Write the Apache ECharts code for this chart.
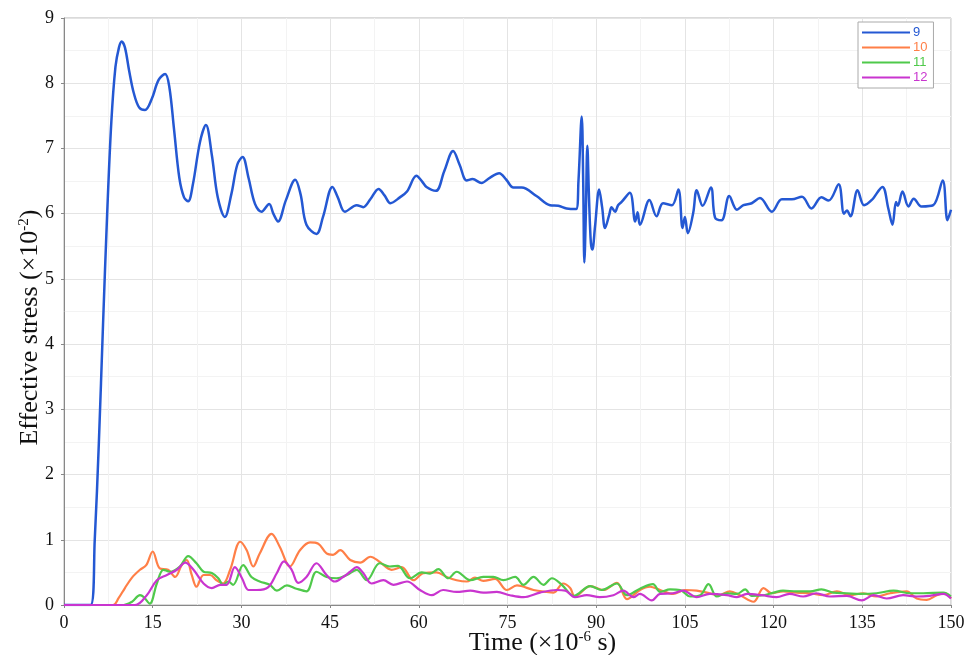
<!DOCTYPE html>
<html><head><meta charset="utf-8">
<script src="https://cdn.jsdelivr.net/npm/echarts@6/dist/echarts.min.js"></script>
<style>html,body{margin:0;padding:0;background:#fff}#c{width:967px;height:655px}</style>
</head><body><div id="c"></div>
<script>
const seriesNames = ['9','10','11','12'];
const colors = ['#2458d3','#ff7f47','#4fc94b','#c935cf'];
const xTicks = [0,15,30,45,60,75,90,105,120,135,150];
const yTicks = [0,1,2,3,4,5,6,7,8,9];

const s9 = [[0,0],[4.5,0],[5.2,1.0],[5.9,2.5],[6.6,4.3],[7.3,6.0],[8.0,7.4],[8.7,8.25],[9.3,8.55],[9.75,8.64],[10.3,8.55],[11.0,8.2],[11.8,7.85],[12.7,7.63],[13.7,7.59],[14.8,7.75],[16.0,8.05],[17.1,8.14],[17.8,7.95],[18.6,7.3],[19.5,6.55],[20.3,6.25],[21.0,6.19],[21.8,6.45],[23.0,7.1],[24.0,7.36],[25.0,6.9],[26.0,6.25],[27.2,5.95],[28.3,6.3],[29.3,6.75],[30.2,6.87],[31.2,6.55],[32.3,6.15],[33.4,6.03],[34.7,6.15],[35.4,6.0],[36.2,5.88],[37.5,6.2],[39.1,6.52],[40.0,6.3],[41.0,5.83],[42.7,5.69],[43.8,5.95],[45.4,6.41],[46.3,6.25],[47.5,6.03],[49.5,6.13],[50.6,6.10],[51.8,6.22],[53.2,6.38],[54.2,6.28],[55.2,6.16],[56.8,6.25],[58.0,6.34],[59.6,6.58],[60.5,6.5],[61.3,6.41],[62.9,6.35],[64.3,6.65],[65.8,6.96],[66.9,6.75],[68.1,6.51],[69.1,6.53],[70.6,6.47],[72.0,6.55],[73.6,6.62],[74.8,6.52],[76.0,6.40],[77.4,6.40],[79.9,6.27],[82.2,6.13],[83.6,6.12],[85.0,6.08],[86.6,6.07],[87.0,6.5],[87.55,7.49],[87.8,6.5],[88.0,5.25],[88.25,6.0],[88.5,7.04],[88.8,6.2],[89.1,5.55],[89.35,5.45],[89.8,5.8],[90.5,6.37],[91.0,6.1],[91.5,5.78],[92.2,5.98],[92.6,6.10],[93.2,6.03],[93.7,6.13],[94.3,6.18],[95.7,6.32],[96.6,5.88],[97.0,6.02],[97.4,5.83],[99.0,6.21],[100.2,5.96],[101.3,6.16],[102.8,6.13],[103.9,6.37],[104.6,5.78],[105.0,5.95],[105.5,5.70],[106.4,6.01],[107.0,6.36],[108.0,6.12],[109.4,6.40],[110.1,5.94],[111.2,5.90],[112.5,6.27],[113.8,6.06],[114.9,6.13],[116.3,6.16],[117.7,6.24],[119.7,6.03],[121.4,6.22],[123.1,6.22],[124.8,6.26],[126.4,6.08],[128.1,6.25],[129.3,6.20],[131.0,6.45],[131.9,6.00],[132.4,6.05],[133.0,5.96],[134.2,6.36],[135.3,6.13],[136.6,6.21],[138.4,6.41],[139.4,6.08],[140.1,5.83],[140.7,6.18],[141.0,6.12],[141.8,6.34],[142.8,6.11],[143.7,6.23],[145.0,6.11],[147.0,6.13],[148.6,6.51],[149.4,5.90],[150,6.06]];

const s10 = [[0,0],[8.3,0],[9.2,0.1],[10.3,0.26],[11.5,0.42],[12.85,0.54],[13.9,0.61],[15.0,0.82],[16.2,0.56],[17.6,0.54],[18.8,0.43],[19.9,0.61],[20.75,0.69],[21.6,0.46],[22.4,0.28],[23.6,0.46],[24.7,0.46],[25.8,0.38],[26.9,0.33],[28.1,0.54],[29.8,0.97],[30.9,0.84],[32.0,0.59],[33.1,0.79],[35.1,1.09],[36.5,0.89],[38.2,0.59],[39.9,0.84],[41.6,0.96],[43.0,0.94],[44.4,0.79],[45.5,0.77],[46.7,0.84],[48.4,0.69],[50.1,0.65],[51.8,0.74],[53.4,0.66],[55.4,0.54],[57.1,0.58],[59.1,0.38],[60.8,0.49],[63.0,0.50],[64.7,0.43],[66.4,0.38],[68.1,0.36],[69.5,0.42],[70.9,0.37],[72.9,0.40],[74.9,0.23],[76.6,0.30],[79.4,0.23],[81.6,0.20],[82.8,0.19],[84.4,0.33],[85.6,0.26],[86.4,0.13],[89.0,0.29],[91.2,0.23],[93.5,0.34],[95.2,0.09],[97.4,0.23],[99.1,0.28],[100.8,0.23],[103.0,0.17],[105.0,0.23],[107.0,0.22],[109.2,0.18],[110.7,0.15],[112.6,0.21],[114.3,0.15],[116.6,0.05],[118.3,0.26],[119.7,0.18],[121.6,0.21],[123.9,0.19],[126.2,0.18],[128.4,0.15],[130.7,0.21],[132.9,0.15],[135.2,0.18],[137.4,0.13],[139.7,0.18],[142.5,0.21],[144.2,0.10],[145.9,0.08],[147.6,0.15],[149.0,0.18],[150,0.1]];

const s11 = [[0,0],[10.1,0],[11.5,0.05],[12.85,0.15],[13.5,0.12],[14.5,0.02],[15.7,0.33],[16.8,0.54],[17.9,0.51],[19.6,0.59],[21.0,0.75],[22.4,0.64],[23.6,0.51],[25.0,0.49],[26.1,0.41],[26.9,0.31],[27.8,0.36],[28.6,0.31],[30.3,0.61],[31.7,0.43],[33.1,0.36],[34.8,0.31],[36.0,0.22],[37.7,0.30],[39.3,0.25],[41.0,0.21],[42.7,0.51],[44.4,0.43],[46.1,0.41],[47.8,0.46],[49.5,0.54],[51.2,0.38],[53.4,0.64],[55.1,0.59],[56.5,0.60],[58.5,0.41],[60.5,0.50],[61.9,0.48],[63.3,0.55],[65.0,0.41],[66.4,0.51],[68.7,0.38],[70.9,0.43],[72.6,0.43],[74.3,0.38],[76.3,0.43],[77.7,0.31],[79.4,0.43],[81.1,0.31],[82.5,0.41],[84.2,0.31],[86.2,0.14],[89.0,0.29],[90.9,0.23],[93.5,0.33],[95.2,0.15],[97.4,0.25],[99.6,0.32],[100.8,0.20],[102.5,0.24],[104.2,0.23],[105.9,0.13],[107.6,0.15],[109.0,0.32],[110.4,0.13],[112.1,0.18],[113.8,0.17],[115.2,0.24],[116.3,0.14],[118.3,0.15],[120.0,0.19],[121.6,0.22],[123.9,0.21],[126.2,0.21],[128.1,0.24],[130.1,0.19],[132.4,0.18],[134.6,0.17],[137.4,0.18],[140.3,0.22],[143.1,0.18],[145.3,0.18],[148.7,0.19],[150,0.13]];

const s12 = [[0,0],[12.0,0],[14.0,0.15],[15.7,0.38],[17.4,0.46],[19.1,0.54],[20.5,0.65],[21.9,0.54],[23.6,0.33],[25.0,0.26],[26.4,0.31],[27.5,0.31],[28.9,0.58],[30.1,0.41],[31.2,0.23],[32.6,0.23],[34.5,0.27],[36.0,0.49],[37.2,0.67],[38.5,0.54],[39.6,0.34],[41.0,0.43],[42.7,0.64],[44.4,0.46],[45.8,0.36],[47.2,0.43],[48.4,0.51],[49.5,0.58],[50.6,0.49],[52.0,0.33],[54.0,0.38],[55.7,0.31],[58.0,0.36],[60.2,0.23],[62.2,0.15],[64.1,0.23],[66.4,0.20],[68.7,0.22],[70.9,0.19],[73.2,0.20],[75.4,0.15],[77.7,0.12],[80.5,0.19],[83.3,0.23],[84.8,0.22],[86.4,0.12],[88.4,0.15],[90.6,0.12],[92.9,0.15],[94.6,0.22],[96.3,0.12],[97.4,0.17],[99.4,0.07],[100.8,0.17],[103.0,0.18],[104.7,0.22],[107.0,0.12],[109.2,0.17],[112.1,0.15],[113.8,0.12],[115.5,0.17],[118.0,0.15],[120.5,0.12],[122.7,0.17],[125.0,0.13],[127.2,0.18],[129.5,0.13],[132.4,0.14],[134.9,0.07],[136.9,0.15],[139.1,0.10],[141.9,0.15],[144.2,0.13],[146.4,0.14],[148.7,0.17],[150,0.10]];

const seriesData = [s9, s10, s11, s12];
const serif = 'Liberation Serif';

const chart = echarts.init(document.getElementById('c'), null, {renderer: 'canvas'});
chart.setOption({
  animation: false,
  backgroundColor: '#fff',
  grid: {left: 64, right: 16, top: 18, bottom: 50, show: true, borderColor: '#b5b5b5', borderWidth: 1,
    containLabel: false, outerBoundsMode: 'none'},
  legend: {
    orient: 'vertical', left: 858, top: 22,
    backgroundColor: '#fff', borderColor: '#aaa', borderWidth: 1,
    padding: [4, 6, 4, 4], itemGap: 2, itemWidth: 48, itemHeight: 2, icon: 'rect',
    data: seriesNames.map((n, i) => ({name: n, textStyle: {color: colors[i]}})),
    textStyle: {fontFamily: 'Liberation Sans', fontSize: 13, padding: [0, 0, 0, -2]}
  },
  xAxis: {
    type: 'value', min: 0, max: 150, interval: 15,
    name: '{a|Time (×10}{s|-6}{a| s)}', nameLocation: 'middle', nameGap: 25, nameMoveOverlap: false,
    nameTextStyle: {padding: [0, 0, 0, 70], rich: {
      a: {fontFamily: serif, fontSize: 26, color: '#111'},
      s: {fontFamily: serif, fontSize: 15, color: '#111', verticalAlign: 'top', padding: [0, 0, 10, 0]}
    }},
    axisLine: {lineStyle: {color: '#888'}},
    axisTick: {show: true, length: 3, lineStyle: {color: '#888'}},
    axisLabel: {fontFamily: serif, fontSize: 18, color: '#111', margin: 9,
      formatter: v => xTicks.includes(v) ? String(v) : ''},
    splitLine: {show: true, lineStyle: {color: '#e4e4e4'}},
    minorTick: {show: false, splitNumber: 2},
    minorSplitLine: {show: true, lineStyle: {color: '#f3f3f3'}}
  },
  yAxis: {
    type: 'value', min: 0, max: 9, interval: 1,
    name: '{a|Effective stress (×10}{s|-2}{a|)}', nameLocation: 'middle', nameGap: 21, nameRotate: 90, nameMoveOverlap: false,
    nameTextStyle: {padding: [0, 32, 0, 0], rich: {
      a: {fontFamily: serif, fontSize: 26, color: '#111'},
      s: {fontFamily: serif, fontSize: 15, color: '#111', verticalAlign: 'top', padding: [0, 0, 10, 0]}
    }},
    axisLine: {show: true, lineStyle: {color: '#888'}},
    axisTick: {show: true, length: 3, lineStyle: {color: '#888'}},
    axisLabel: {fontFamily: serif, fontSize: 18, color: '#111', margin: 10,
      formatter: v => yTicks.includes(v) ? String(v) : ''},
    splitLine: {show: true, lineStyle: {color: '#e4e4e4'}},
    minorTick: {show: false, splitNumber: 2},
    minorSplitLine: {show: true, lineStyle: {color: '#f3f3f3'}}
  },
  series: seriesNames.map((n, i) => ({
    name: n, type: 'line', data: seriesData[i], smooth: 0.35, symbol: 'none',
    lineStyle: {color: colors[i], width: i === 0 ? 2.5 : 2.2},
    itemStyle: {color: colors[i]},
    z: 2 + i
  }))
});
</script>
</body></html>
